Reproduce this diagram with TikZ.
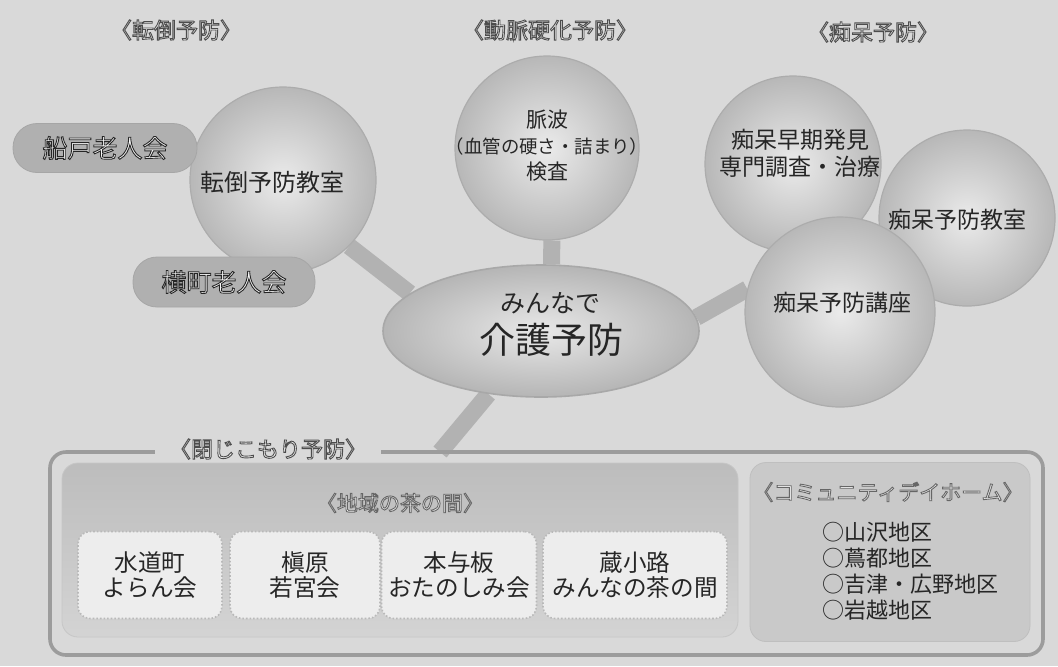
\documentclass[tikz,border=0pt]{standalone}
\usepackage{fontspec}
\setmainfont{Noto Sans CJK JP}
\usetikzlibrary{shapes.geometric}
\pgfdeclarelayer{bg}
\pgfdeclarelayer{conn}
\pgfsetlayers{bg,conn,main}
\newcommand\fsz[2]{\fontsize{#1}{#2}\selectfont}
\newcommand\outl[2][0.3]{\special{pdf:code 2 Tr 0.45 w #1 G}#2\special{pdf:code 0 Tr}}
\definecolor{bgc}{gray}{0.85}
\tikzset{
  circ/.style={circle, inner color=gray!16, outer color=gray!56, draw=gray!65, line width=0.6pt, inner sep=0pt},
  txt/.style={text=black!85, align=center, inner sep=0pt},
  lbl/.style={text=gray!8, font=\fsz{11}{13}, inner sep=1pt},
  pill/.style={rounded corners=12pt, fill=gray!62, draw=gray!70, text=gray!5, font=\fsz{12.5}{15}},
  conn/.style={line width=8.5pt, draw=gray!60},
  frame/.style={draw=gray!78, line width=1.8pt, rounded corners=8pt},
  innerbox/.style={rounded corners=8pt, top color=gray!52, bottom color=gray!34, draw=gray!45},
  commbox/.style={rounded corners=8pt, fill=gray!42, draw=gray!50},
  subbox/.style={rounded corners=6pt, fill=gray!14, draw=gray!55, densely dotted, line width=0.8pt, align=center, font=\fsz{11.8}{12.8}, text=black!85}
}
\begin{document}
\begin{tikzpicture}[x=0.5pt,y=-0.5pt]
\begin{pgfonlayer}{bg}
\fill[bgc] (0,0) rectangle (1058,666);
\end{pgfonlayer}
\useasboundingbox (0,0) rectangle (1058,666);

% top labels
\node[lbl] (l-tento) at (176,30) {\outl{〈転倒予防〉}};
\node[lbl] (l-doumyaku) at (550,30) {\outl{〈動脈硬化予防〉}};
\node[lbl] (l-chihou) at (873,32) {\outl{〈痴呆予防〉}};

% circles
\node[circ, minimum size=93pt] (tento) at (283,180) {};
\node[txt, font=\fsz{12}{14}] (tento-t) at (272,182) {転倒予防教室};

\node[circ, minimum size=92pt] (myaku) at (547,148) {};
\node[txt, font=\fsz{10.5}{13}] (myaku-t) at (547,146) {脈波\\{\fsz{9.2}{13}（血管の硬さ・詰まり）}\\検査};

\node[circ, minimum size=88pt] (kyoushitsu) at (967,218) {};
\node[circ, minimum size=88pt] (souki) at (793,164) {};
\node[circ, minimum size=95pt] (kouza) at (840,312) {};
\node[txt, font=\fsz{11.5}{13.5}] (souki-t) at (800,153) {痴呆早期発見\\専門調査・治療};
\node[txt, font=\fsz{11.5}{13.5}] (kyoushitsu-t) at (957,220) {痴呆予防教室};
\node[txt, font=\fsz{11.5}{13.5}] (kouza-t) at (842,303) {痴呆予防講座};

% central ellipse
\node[ellipse, minimum width=158pt, minimum height=66pt, inner color=gray!18, outer color=gray!58, draw=gray!68, line width=0.8pt] (kaigo) at (541,331) {};
\node[txt, font=\fsz{12.5}{14}] (kaigo-t1) at (550,303) {みんなで};
\node[txt, font=\fsz{18}{20}] (kaigo-t2) at (551,340) {介護予防};

% pills
\node[pill, minimum width=92pt, minimum height=24.5pt] (funado) at (105,148) {\outl[0.15]{船戸老人会}};
\node[pill, minimum width=91pt, minimum height=25pt] (yokomachi) at (224,282) {\outl[0.15]{横町老人会}};

% bottom frame
\node[frame, minimum width=496.5pt, minimum height=101.5pt] (hikiko) at (546.5,553.5) {};
\node[fill=bgc, text=gray!8, font=\fsz{11}{13}, inner xsep=7pt, inner ysep=2pt] (hikiko-t) at (268,449) {\outl{〈閉じこもり予防〉}};
\coordinate (hk) at (440,452);

\node[innerbox, minimum width=338pt, minimum height=87pt] (chanoma) at (400,550) {};
\node[text=gray!8, font=\fsz{10.5}{12}] (chanoma-t) at (400,503) {\outl[0.4]{〈地域の茶の間〉}};
\node[subbox, minimum width=72pt, minimum height=43.5pt] (s1) at (150,575) {水道町\\よらん会};
\node[subbox, minimum width=75pt, minimum height=43.5pt] (s2) at (305,575) {槇原\\若宮会};
\node[subbox, minimum width=76pt, minimum height=43.5pt] (s3) at (459,575) {本与板\\おたのしみ会};
\node[subbox, minimum width=92pt, minimum height=43.5pt] (s4) at (635,575) {蔵小路\\みんなの茶の間};

\node[commbox, minimum width=140pt, minimum height=89.5pt] (comm) at (890,552) {};
\node[text=gray!8, font=\fsz{10.5}{12}] (comm-t) at (888,492) {\outl[0.4]{〈コミュニティデイホーム〉}};
\node[txt, align=left, font=\fsz{11}{13}] (comm-l) at (910,571) {○山沢地区\\○蔦都地区\\○吉津・広野地区\\○岩越地区};

% connectors
\begin{pgfonlayer}{conn}
\draw[conn] (tento.-45) -- (kaigo.164);
\draw[conn] (myaku.-87) -- (kaigo.81);
\draw[conn] (kaigo.5) -- (kouza.166);
\draw[conn] (kaigo) -- (hk);
\end{pgfonlayer}
\end{tikzpicture}
\end{document}
